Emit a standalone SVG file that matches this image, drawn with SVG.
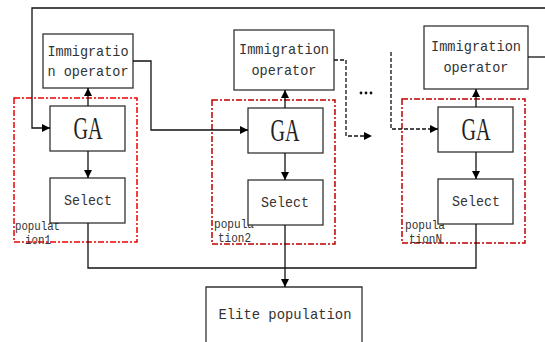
<svg xmlns="http://www.w3.org/2000/svg" width="545" height="342" viewBox="0 0 545 342">
  <style>
    .box { fill: #fff; stroke: #333; stroke-width: 1.3; }
    .pop { fill: none; stroke: #c00000; stroke-width: 1.5; stroke-dasharray: 6 2 2 2; }
    .pop.bright { stroke: #f00000; }
    .txt { font-family: "Liberation Mono", "DejaVu Sans Mono", monospace; font-size: 15px; fill: #333; text-anchor: middle; }
    .ga { font-family: "Liberation Serif", "DejaVu Serif", serif; font-size: 32px; fill: #222; text-anchor: middle; }
    .lbl { font-family: "Liberation Mono", "DejaVu Sans Mono", monospace; font-size: 12px; fill: #333; }
    .ln { fill: none; stroke: #111; stroke-width: 1.3; }
    .dash { fill: none; stroke: #111; stroke-width: 1.3; stroke-dasharray: 4 2; }
  </style>
  <defs>
    <marker id="arrow" viewBox="0 0 10 10" refX="10" refY="5" markerWidth="8" markerHeight="8" markerUnits="userSpaceOnUse" orient="auto">
      <path d="M0,0 L10,5 L0,10 Z" fill="#000"/>
    </marker>
  </defs>

  <!-- population 1 -->
  <g id="pop1">
    <rect class="pop bright" x="14" y="98" width="123" height="144"/>
    <text class="lbl" x="15" y="230" textLength="45" lengthAdjust="spacingAndGlyphs">populat</text>
    <text class="lbl" x="25" y="244" textLength="26" lengthAdjust="spacingAndGlyphs">ion1</text>
  </g>
  <g id="imm1">
    <rect class="box" x="43" y="34" width="90" height="54"/>
    <text class="txt" x="88" y="56" textLength="81" lengthAdjust="spacingAndGlyphs">Immigratio</text>
    <text class="txt" x="88" y="76" textLength="81" lengthAdjust="spacingAndGlyphs">n operator</text>
  </g>
  <g id="ga1">
    <rect class="box" x="50" y="106" width="75" height="45"/>
    <text class="ga" x="88" y="139" textLength="29" lengthAdjust="spacingAndGlyphs">GA</text>
  </g>
  <g id="sel1">
    <rect class="box" x="50" y="178" width="75" height="45"/>
    <text class="txt" x="88" y="205" textLength="48" lengthAdjust="spacingAndGlyphs">Select</text>
  </g>

  <!-- population 2 -->
  <g id="pop2">
    <rect class="pop" x="212" y="100" width="123" height="144"/>
    <text class="lbl" x="214" y="228" textLength="40" lengthAdjust="spacingAndGlyphs">popula</text>
    <text class="lbl" x="218" y="242" textLength="33" lengthAdjust="spacingAndGlyphs">tion2</text>
  </g>
  <g id="imm2">
    <rect class="box" x="234" y="30" width="100" height="60"/>
    <text class="txt" x="284" y="54" textLength="90" lengthAdjust="spacingAndGlyphs">Immigration</text>
    <text class="txt" x="284" y="75" textLength="65" lengthAdjust="spacingAndGlyphs">operator</text>
  </g>
  <g id="ga2">
    <rect class="box" x="248" y="108" width="75" height="45"/>
    <text class="ga" x="285" y="141" textLength="29" lengthAdjust="spacingAndGlyphs">GA</text>
  </g>
  <g id="sel2">
    <rect class="box" x="248" y="180" width="75" height="45"/>
    <text class="txt" x="285" y="207" textLength="48" lengthAdjust="spacingAndGlyphs">Select</text>
  </g>

  <!-- population N -->
  <g id="popN">
    <rect class="pop" x="402" y="99" width="123" height="144"/>
    <text class="lbl" x="405" y="229" textLength="40" lengthAdjust="spacingAndGlyphs">popula</text>
    <text class="lbl" x="409" y="243" textLength="33" lengthAdjust="spacingAndGlyphs">tionN</text>
  </g>
  <g id="immN">
    <rect class="box" x="424" y="26" width="104" height="63"/>
    <text class="txt" x="476" y="51" textLength="90" lengthAdjust="spacingAndGlyphs">Immigration</text>
    <text class="txt" x="476" y="72" textLength="65" lengthAdjust="spacingAndGlyphs">operator</text>
  </g>
  <g id="gaN">
    <rect class="box" x="438" y="107" width="75" height="45"/>
    <text class="ga" x="476" y="140" textLength="29" lengthAdjust="spacingAndGlyphs">GA</text>
  </g>
  <g id="selN">
    <rect class="box" x="438" y="179" width="75" height="45"/>
    <text class="txt" x="476" y="206" textLength="48" lengthAdjust="spacingAndGlyphs">Select</text>
  </g>

  <!-- elite pool -->
  <g id="elite">
    <path class="box" d="M206,343 V287 H362 V343"/>
    <text class="txt" x="285" y="319" textLength="133" lengthAdjust="spacingAndGlyphs">Elite population</text>
  </g>

  <g id="ellipsis">
    <circle cx="361" cy="93" r="1.4" fill="#111"/>
    <circle cx="366" cy="93" r="1.4" fill="#111"/>
    <circle cx="371" cy="93" r="1.4" fill="#111"/>
  </g>

  <!-- connectors -->
  <g id="connectors">
    <!-- ring feedback into population 1 -->
    <path class="ln" d="M546,8 H32 V128 H50" marker-end="url(#arrow)"/>
    <!-- GA to immigration operators -->
    <path class="ln" d="M88,106 V88" marker-end="url(#arrow)"/>
    <path class="ln" d="M285,108 V90" marker-end="url(#arrow)"/>
    <path class="ln" d="M476,107 V89" marker-end="url(#arrow)"/>
    <!-- GA to select -->
    <path class="ln" d="M88,151 V178" marker-end="url(#arrow)"/>
    <path class="ln" d="M285,153 V180" marker-end="url(#arrow)"/>
    <path class="ln" d="M476,152 V179" marker-end="url(#arrow)"/>
    <!-- migration between populations -->
    <path class="ln" d="M133,61 H151 V130 H248" marker-end="url(#arrow)"/>
    <path class="dash" d="M334,60 H346 V136 H372" marker-end="url(#arrow)"/>
    <path class="dash" d="M391,52 V129 H438" marker-end="url(#arrow)"/>
    <path class="ln" d="M528,57 H546"/>
    <!-- selected individuals to elite pool -->
    <path class="ln" d="M88,223 V268 H476 V224"/>
    <path class="ln" d="M285,225 V287" marker-end="url(#arrow)"/>
  </g>
</svg>
